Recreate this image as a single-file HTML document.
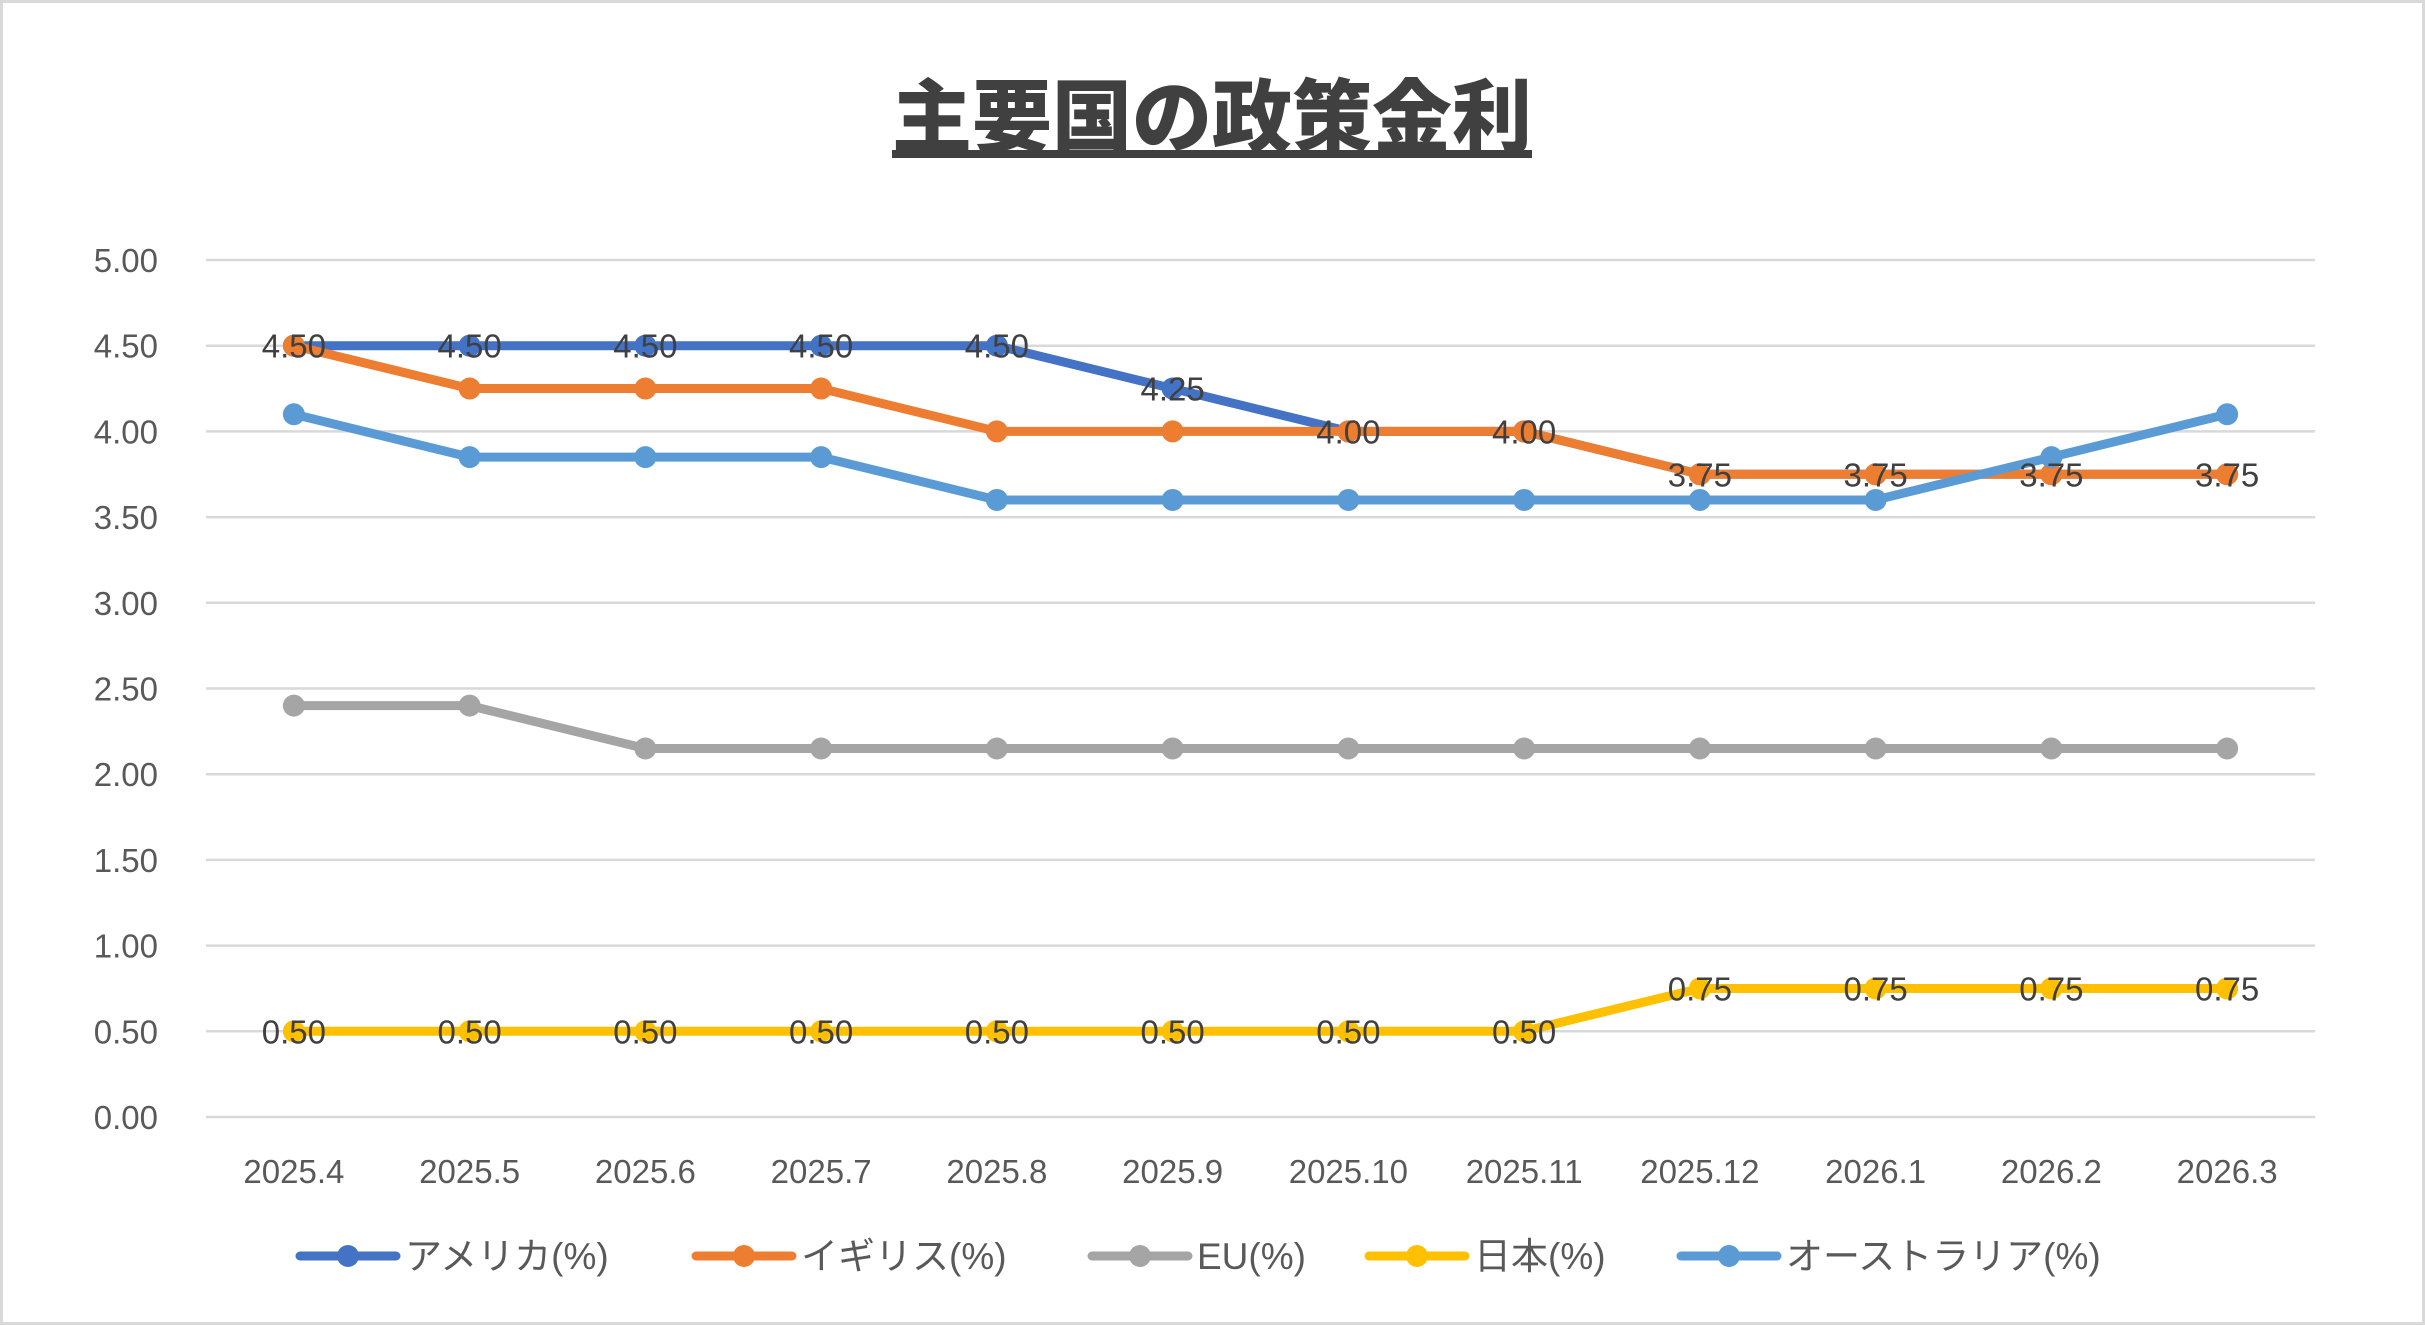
<!DOCTYPE html>
<html><head><meta charset="utf-8"><style>
html,body{margin:0;padding:0;background:#fff;}
#wrap{position:relative;width:2425px;height:1325px;overflow:hidden;}
svg text{font-family:"Liberation Sans","Noto Sans CJK JP",sans-serif;}
</style></head><body>
<div id="wrap">
<svg id="chart" width="2425" height="1325" xmlns="http://www.w3.org/2000/svg">
<rect x="1.5" y="1.5" width="2422" height="1322" fill="#fff" stroke="#d9d9d9" stroke-width="3"/>
<text x="1212" y="146" text-anchor="middle" font-size="80" font-weight="900" fill="#404040" style="font-family:'Noto Sans CJK JP',sans-serif;text-decoration:underline">主要国の政策金利</text>
<g id="grid"></g><g id="series"></g><g id="labels"></g><g id="legend"></g>
</svg>
</div>
<script>
const categories=["2025.4","2025.5","2025.6","2025.7","2025.8","2025.9","2025.10","2025.11","2025.12","2026.1","2026.2","2026.3"];
const yTicks=[0,0.5,1,1.5,2,2.5,3,3.5,4,4.5,5];
const usRates=[4.5,4.5,4.5,4.5,4.5,4.25,4.0,4.0,3.75,3.75,3.75,3.75];
const ukRates=[4.5,4.25,4.25,4.25,4.0,4.0,4.0,4.0,3.75,3.75,3.75,3.75];
const euRates=[2.4,2.4,2.15,2.15,2.15,2.15,2.15,2.15,2.15,2.15,2.15,2.15];
const jpRates=[0.5,0.5,0.5,0.5,0.5,0.5,0.5,0.5,0.75,0.75,0.75,0.75];
const auRates=[4.1,3.85,3.85,3.85,3.6,3.6,3.6,3.6,3.6,3.6,3.85,4.1];
const seriesNames=["アメリカ(%)","イギリス(%)","EU(%)","日本(%)","オーストラリア(%)"];

const NS="http://www.w3.org/2000/svg";
const X0=206,X1=2315,Y0=1117,YTOP=260,YMAX=5;
const bw=(X1-X0)/categories.length;
const xs=i=>X0+bw*(i+0.5);
const ys=v=>Y0-(v/YMAX)*(Y0-YTOP);
function mk(tag,attrs,parent){const e=document.createElementNS(NS,tag);for(const k in attrs)e.setAttribute(k,attrs[k]);parent.appendChild(e);return e;}
const grid=document.getElementById('grid');
yTicks.forEach(v=>{
  const l=mk('line',{x1:X0,x2:X1,y1:ys(v),y2:ys(v),stroke:'#d9d9d9','stroke-width':2.5},grid);
  
  
  const t=mk('text',{x:158,y:ys(v)+12,'text-anchor':'end','font-size':33,fill:'#595959'},grid);
  t.textContent=v.toFixed(2);
  
  
});
categories.forEach((c,i)=>{
  const t=mk('text',{x:xs(i),y:1183,'text-anchor':'middle','font-size':33,fill:'#595959'},grid);
  t.textContent=c;
  
  
});
const colors=["#4472C4","#ED7D31","#A5A5A5","#FFC000","#5B9BD5"];
const data=[usRates,ukRates,euRates,jpRates,auRates];
const sg=document.getElementById('series');
data.forEach((arr,si)=>{
  const g=mk('g',{},sg);
  
  
  const p=mk('polyline',{points:arr.map((v,i)=>xs(i)+','+ys(v)).join(' '),fill:'none',stroke:colors[si],'stroke-width':9,'stroke-linejoin':'round','stroke-linecap':'round'},g);
  
  
  arr.forEach((v,i)=>{
    const c=mk('circle',{cx:xs(i),cy:ys(v),r:11,fill:colors[si]},g);
    
    
  });
});
const lg=document.getElementById('labels');
[usRates,jpRates].forEach(arr=>{
  arr.forEach((v,i)=>{
    const t=mk('text',{x:xs(i),y:ys(v)+12,'text-anchor':'middle','font-size':33,fill:'#404040'},lg);
    t.textContent=v.toFixed(2);
    
    
  });
});
const leg=document.getElementById('legend');
const legX=[300,696,1092,1369,1681];
seriesNames.forEach((n,i)=>{
  const g=mk('g',{},leg);
  
  
  mk('line',{x1:legX[i],x2:legX[i]+96,y1:1256,y2:1256,stroke:colors[i],'stroke-width':9,'stroke-linecap':'round'},g);
  mk('circle',{cx:legX[i]+48,cy:1256,r:11,fill:colors[i]},g);
  const t=mk('text',{x:legX[i]+105,y:1269,'font-size':37,fill:'#595959'},g);
  t.textContent=n;
});
</script>
</body></html>
